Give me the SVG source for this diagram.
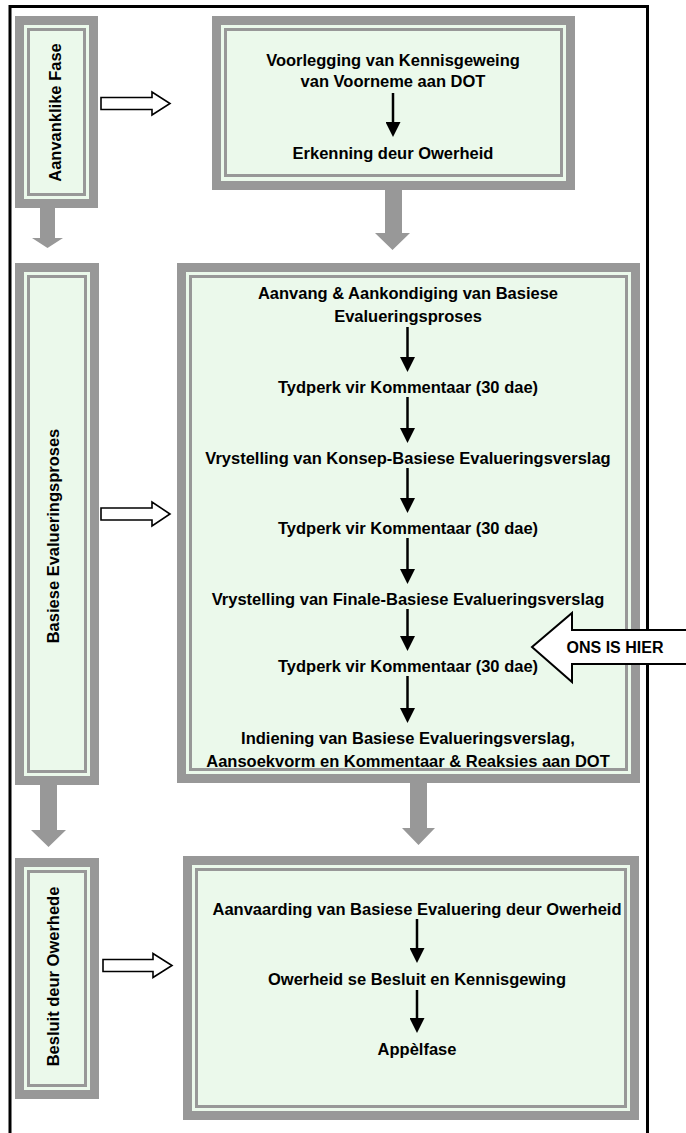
<svg xmlns="http://www.w3.org/2000/svg" width="686" height="1133" viewBox="0 0 686 1133">
<style>
.outer{fill:#989898}
.green{fill:#ebf9eb}
.line{fill:none;stroke:#989898;stroke-width:3}
.t{font-family:"Liberation Sans",Arial,sans-serif;font-weight:bold;font-size:16.5px;fill:#000;text-anchor:middle}
.gray{fill:#989898}
.wa{fill:#fff;stroke:#000;stroke-width:1.6}
.ba{stroke:#000;stroke-width:2.5;fill:none}
</style>
<defs>
<marker id="ah" markerUnits="userSpaceOnUse" markerWidth="15" markerHeight="15" viewBox="0 0 15 15" refX="0" refY="7.5" orient="auto">
<path d="M0,0 L15,7.5 L0,15 z" fill="#000"/>
</marker>
</defs>
<rect width="686" height="1133" fill="#fff"/>
<path d="M10,1133 V6.5 H647.5 V1133" fill="none" stroke="#000" stroke-width="3"/>

<g id="n-aanvanklike-fase">
<rect class="outer" x="15" y="16" width="83" height="192"/>
<rect class="green" x="24" y="25" width="65" height="174"/>
<rect class="line" x="28.5" y="29.5" width="56" height="165"/>
<text class="t" transform="translate(55,112.5) rotate(-90)" x="0" y="6">Aanvanklike Fase</text>
</g>

<g id="n-voorlegging">
<rect class="outer" x="212" y="16" width="363" height="174"/>
<rect class="green" x="221" y="25" width="345" height="156"/>
<rect class="line" x="225.5" y="29.5" width="336" height="146"/>
<text class="t" x="393" y="66">Voorlegging van Kennisgeweing</text>
<text class="t" x="393" y="87">van Voorneme aan DOT</text>
<text class="t" x="393" y="159">Erkenning deur Owerheid</text>
</g>

<g id="n-basiese-evalueringsproses">
<rect class="outer" x="15" y="263" width="84" height="522"/>
<rect class="green" x="24" y="272" width="66" height="504"/>
<rect class="line" x="28.5" y="276.5" width="57" height="495"/>
<text class="t" transform="translate(53,536) rotate(-90)" x="0" y="6">Basiese Evalueringsproses</text>
</g>

<g id="n-evaluering-stappe">
<rect class="outer" x="177" y="263" width="463" height="520"/>
<rect class="green" x="186" y="272" width="445" height="502"/>
<text class="t" x="408" y="299">Aanvang &amp; Aankondiging van Basiese</text>
<text class="t" x="408" y="322">Evalueringsproses</text>
<text class="t" x="408" y="393">Tydperk vir Kommentaar (30 dae)</text>
<text class="t" x="408" y="464">Vrystelling van Konsep-Basiese Evalueringsverslag</text>
<text class="t" x="408" y="534">Tydperk vir Kommentaar (30 dae)</text>
<text class="t" x="408" y="605">Vrystelling van Finale-Basiese Evalueringsverslag</text>
<text class="t" x="408" y="672">Tydperk vir Kommentaar (30 dae)</text>
<text class="t" x="408" y="744">Indiening van Basiese Evalueringsverslag,</text>
<text class="t" x="408" y="767">Aansoekvorm en Kommentaar &amp; Reaksies aan DOT</text>
<rect class="line" x="190.5" y="276.5" width="436" height="493"/>
</g>

<g id="n-besluit-deur-owerhede">
<rect class="outer" x="15" y="858" width="84" height="241"/>
<rect class="green" x="24" y="867" width="66" height="223"/>
<rect class="line" x="28.5" y="871.5" width="57" height="214"/>
<text class="t" transform="translate(53,976.5) rotate(-90)" x="0" y="6">Besluit deur Owerhede</text>
</g>

<g id="n-aanvaarding">
<rect class="outer" x="183" y="856" width="456" height="264"/>
<rect class="green" x="192" y="865" width="438" height="246"/>
<rect class="line" x="196.5" y="869.5" width="429" height="237"/>
<text class="t" x="417" y="915">Aanvaarding van Basiese Evaluering deur Owerheid</text>
<text class="t" x="417" y="985">Owerheid se Besluit en Kennisgewing</text>
<text class="t" x="417" y="1055">Appèlfase</text>
</g>

<g id="connectors">
<polygon class="gray" points="40,207 55,207 55,238 63,238 47.5,248 32,238 40,238"/>
<polygon class="gray" points="385,189 402,189 402,233 410,233 392.5,250 375,233 385,233"/>
<polygon class="gray" points="40,784 57,784 57,830 66,830 48.5,847 31,830 40,830"/>
<polygon class="gray" points="410,782 427,782 427,828 435,828 418.5,845 402,828 410,828"/>
<polygon class="wa" points="101,97.5 152,97.5 152,92 170,103.5 152,115 152,109.5 101,109.5"/>
<polygon class="wa" points="101,508 152,508 152,502 170,514 152,526 152,520 101,520"/>
<polygon class="wa" points="103,959.5 153,959.5 153,953.5 172,965.5 153,977.5 153,971.5 103,971.5"/>
<line class="ba" x1="393" y1="93" x2="393" y2="122" marker-end="url(#ah)"/>
<line class="ba" x1="407.5" y1="327" x2="407.5" y2="357" marker-end="url(#ah)"/>
<line class="ba" x1="407.5" y1="397" x2="407.5" y2="428" marker-end="url(#ah)"/>
<line class="ba" x1="407.5" y1="468" x2="407.5" y2="498" marker-end="url(#ah)"/>
<line class="ba" x1="407.5" y1="538" x2="407.5" y2="569" marker-end="url(#ah)"/>
<line class="ba" x1="407.5" y1="609" x2="407.5" y2="636" marker-end="url(#ah)"/>
<line class="ba" x1="407.5" y1="676" x2="407.5" y2="708" marker-end="url(#ah)"/>
<line class="ba" x1="417" y1="919" x2="417" y2="948" marker-end="url(#ah)"/>
<line class="ba" x1="417" y1="990" x2="417" y2="1018" marker-end="url(#ah)"/>
</g>

<g id="n-ons-is-hier">
<polygon points="532,647 572,613 572,630 690,630 690,664 572,664 572,682" fill="#fff" stroke="#000" stroke-width="2"/>
<text class="t" x="615" y="653" style="font-size:16px">ONS IS HIER</text>
</g>
</svg>
